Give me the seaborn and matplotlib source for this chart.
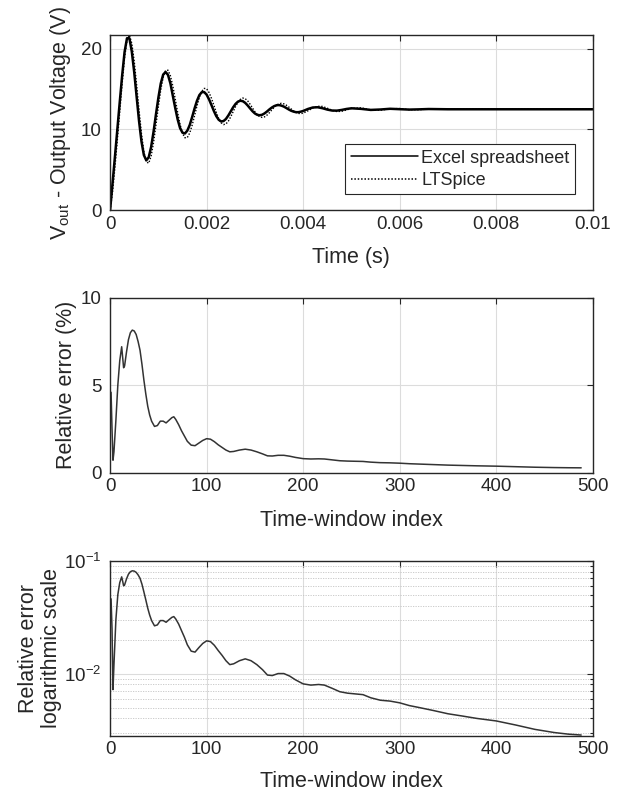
import numpy as np
import pandas as pd
import seaborn as sns
import matplotlib.pyplot as plt
from matplotlib.ticker import FixedLocator, NullFormatter, LogLocator

# =========================
# DATA
# =========================
# time grid (ms) of the simulated output
time_ms = np.round(np.r_[np.arange(0, 4.0001, 0.05), np.arange(4.1, 5.0001, 0.1),
                         np.arange(5.2, 6.6001, 0.2), [7, 8, 9, 10]], 2)

v_excel = [0.0, 3.3, 6.6, 10.0, 13.4, 16.7, 19.6, 21.3, 21.3, 19.64,
           17.08, 14.04, 11.03, 8.51, 6.82, 6.17, 6.55, 7.82, 9.70, 11.86,
           13.92, 15.7, 16.8, 17.12, 16.75, 15.7, 14.16, 12.65, 11.24, 10.16,
           9.6, 9.5, 9.85, 10.55, 11.54, 12.60, 13.55, 14.26, 14.62, 14.63,
           14.31, 13.73, 13.02, 12.29, 11.65, 11.20, 10.99, 11.04, 11.30, 11.73,
           12.24, 12.75, 13.17, 13.45, 13.56, 13.50, 13.29, 12.97, 12.61, 12.26,
           11.98, 11.81, 11.76, 11.82, 11.99, 12.22, 12.48, 12.71, 12.89, 13.00,
           13.02, 12.95, 12.83, 12.66, 12.48, 12.32, 12.21, 12.14, 12.14, 12.20,
           12.29,
           12.54, 12.72, 12.75, 12.63, 12.46, 12.34, 12.33, 12.42, 12.54, 12.62,
           12.55, 12.42, 12.47, 12.56, 12.51, 12.46, 12.49, 12.53,
           12.5, 12.5, 12.5, 12.5]

v_ltspice = [0.0, 2.2, 5.3, 8.7, 12.2, 15.7, 18.9, 21.0, 21.70, 20.65,
             18.44, 15.50, 12.35, 9.45, 7.23, 5.99, 5.82, 6.69, 8.36, 10.54,
             12.84, 14.92, 16.47, 17.30, 17.34, 16.64, 15.37, 13.76, 12.09, 10.60,
             9.52, 8.97, 9.00, 9.56, 10.52, 11.71, 12.92, 13.98, 14.73, 15.09,
             15.03, 14.58, 13.86, 12.99, 12.11, 11.35, 10.83, 10.60, 10.68, 11.03,
             11.57, 12.21, 12.85, 13.38, 13.74, 13.89, 13.81, 13.54, 13.13, 12.66,
             12.20, 11.82, 11.58, 11.49, 11.56, 11.77, 12.07, 12.42, 12.75, 13.02,
             13.18, 13.24, 13.17, 13.01, 12.79, 12.54, 12.30, 12.11, 11.99, 11.96,
             12.02,
             12.31, 12.66, 12.87, 12.85, 12.63, 12.37, 12.22, 12.25, 12.42, 12.60,
             12.68, 12.42, 12.38, 12.56, 12.59, 12.45, 12.44, 12.54,
             12.5, 12.5, 12.5, 12.5]

# relative error per time window
win_idx = [1, 2, 3, 4, 6, 8, 10, 12, 13, 14, 15, 17, 19, 21, 23, 25, 27, 29, 31, 33,
           35, 37, 39, 41, 43, 46, 49, 52, 55, 58, 61, 64, 66, 68, 71, 74, 77, 80, 84, 88,
           92, 96, 100, 104, 108, 112, 116, 120, 124, 128, 134, 140, 146, 152, 158, 163, 168, 174, 180, 186,
           192, 200, 208, 216, 222, 230, 238, 246, 254, 262, 270, 280, 290, 300, 310, 320, 335, 350, 365, 380,
           400, 420, 440, 460, 475, 488]
err_pct = [4.6, 2.5, 0.72, 1.2, 3.0, 5.0, 6.4, 7.2, 6.6, 6.0, 6.1, 6.9, 7.6, 8.0, 8.15, 8.1, 7.9, 7.5, 7.0, 6.2,
           5.3, 4.5, 3.8, 3.3, 2.95, 2.65, 2.7, 2.95, 2.95, 2.85, 3.0, 3.15, 3.2, 3.05, 2.75, 2.4, 2.1, 1.8, 1.58, 1.55,
           1.7, 1.85, 1.95, 1.92, 1.78, 1.6, 1.45, 1.3, 1.2, 1.22, 1.3, 1.35, 1.3, 1.2, 1.08, 0.97, 0.96, 1.0, 1.0, 0.95,
           0.88, 0.81, 0.79, 0.80, 0.79, 0.74, 0.69, 0.67, 0.66, 0.65, 0.61, 0.58, 0.57, 0.55, 0.52, 0.50, 0.47, 0.44, 0.42, 0.40,
           0.38, 0.35, 0.32, 0.30, 0.29, 0.285]

time_ticks = [0, 0.002, 0.004, 0.006, 0.008, 0.01]
time_labels = ["0", "0.002", "0.004", "0.006", "0.008", "0.01"]

# =========================
# STYLE
# =========================
sns.set_theme(style="white")
TXT = "#262626"
plt.rcParams['font.family'] = ['Liberation Sans', 'DejaVu Sans']
plt.rcParams.update({
    "mathtext.fontset": "custom",
    "mathtext.rm": "Liberation Sans",
    "mathtext.it": "Liberation Sans:italic",
    "mathtext.default": "regular",
    "text.color": TXT, "axes.labelcolor": TXT,
    "xtick.color": TXT, "ytick.color": TXT,
    "axes.edgecolor": TXT, "axes.linewidth": 1.0,
})

df_v = pd.DataFrame({"t": time_ms / 1000.0, "excel": v_excel, "ltspice": v_ltspice})
df_e = pd.DataFrame({"idx": win_idx, "pct": err_pct})
df_e["frac"] = df_e["pct"] / 100.0

fig = plt.figure(figsize=(6.22, 7.96), dpi=100)
ax1 = fig.add_axes([0.177, 0.736, 0.776, 0.220])
ax2 = fig.add_axes([0.177, 0.406, 0.776, 0.220])
ax3 = fig.add_axes([0.177, 0.0755, 0.776, 0.220])


def style_axis(ax):
    ax.grid(True, which="major", color="#dcdcdc", lw=0.8)
    ax.set_axisbelow(True)
    ax.tick_params(which="both", direction="in", top=True, right=True,
                   labelsize=13.5, width=0.8)
    ax.tick_params(which="major", length=4)
    ax.tick_params(which="minor", length=2.5)
    ax.tick_params(axis="x", pad=4)
    ax.tick_params(axis="y", pad=6)
    for s in ax.spines.values():
        s.set_visible(True)
        s.set_color(TXT)


# =========================
# 1. OUTPUT VOLTAGE
# =========================
sns.lineplot(data=df_v, x="t", y="excel", ax=ax1, color="black", lw=1.8,
             label="Excel spreadsheet", errorbar=None)
sns.lineplot(data=df_v, x="t", y="ltspice", ax=ax1, color="black", lw=1.0,
             ls=(0, (1, 1.2)), label="LTSpice", errorbar=None)
ax1.set_xlim(0, 0.01)
ax1.set_ylim(0, 21.7)
ax1.set_xticks(time_ticks)
ax1.set_xticklabels(time_labels)
ax1.set_yticks([0, 10, 20])
style_axis(ax1)
ax1.set_xlabel("Time (s)", fontsize=15.5)
ax1.set_ylabel(r"V$_{\mathrm{out}}$ - Output Voltage (V)", fontsize=15.5)
ax1.yaxis.set_label_coords(-0.076, 0.5)
ax1.xaxis.set_label_coords(0.5, -0.21)
leg = ax1.legend(loc="lower right", bbox_to_anchor=(0.963, 0.09), fontsize=13,
                 frameon=True, fancybox=False, framealpha=1, edgecolor=TXT,
                 handlelength=3.7, handletextpad=0.2, labelspacing=0.3,
                 borderpad=0.3, borderaxespad=0)
leg.get_frame().set_linewidth(0.8)
for h in leg.get_lines():
    h.set_linewidth(1.1)

# =========================
# 2. RELATIVE ERROR (%)
# =========================
sns.lineplot(data=df_e, x="idx", y="pct", ax=ax2, color="#333333", lw=1.1, errorbar=None)
ax2.set_xlim(0, 500)
ax2.set_ylim(0, 10)
ax2.set_xticks([0, 100, 200, 300, 400, 500])
ax2.set_yticks([0, 5, 10])
style_axis(ax2)
ax2.set_xlabel("Time-window index", fontsize=15.5)
ax2.set_ylabel("Relative error (%)", fontsize=15.5)
ax2.yaxis.set_label_coords(-0.068, 0.5)
ax2.xaxis.set_label_coords(0.5, -0.21)

# =========================
# 3. RELATIVE ERROR (LOG)
# =========================
sns.lineplot(data=df_e, x="idx", y="frac", ax=ax3, color="#333333", lw=1.1, errorbar=None)
ax3.set_yscale("log")
ax3.set_xlim(0, 500)
ax3.set_ylim(0.0028, 0.1)
ax3.set_xticks([0, 100, 200, 300, 400, 500])
ax3.yaxis.set_major_locator(FixedLocator([0.01, 0.1]))
ax3.yaxis.set_minor_locator(LogLocator(base=10, subs=np.arange(2, 10)))
ax3.yaxis.set_minor_formatter(NullFormatter())
style_axis(ax3)
ax3.grid(True, which="minor", axis="y", color="#c4c4c4", lw=0.6, ls=(0, (1.5, 1.5)))
ax3.set_xlabel("Time-window index", fontsize=15.5)
ax3.set_ylabel("Relative error\nlogarithmic scale", fontsize=15.5, linespacing=1.1)
ax3.yaxis.set_label_coords(-0.1, 0.5)
ax3.xaxis.set_label_coords(0.5, -0.2)

fig.savefig("out.png", dpi=100)
